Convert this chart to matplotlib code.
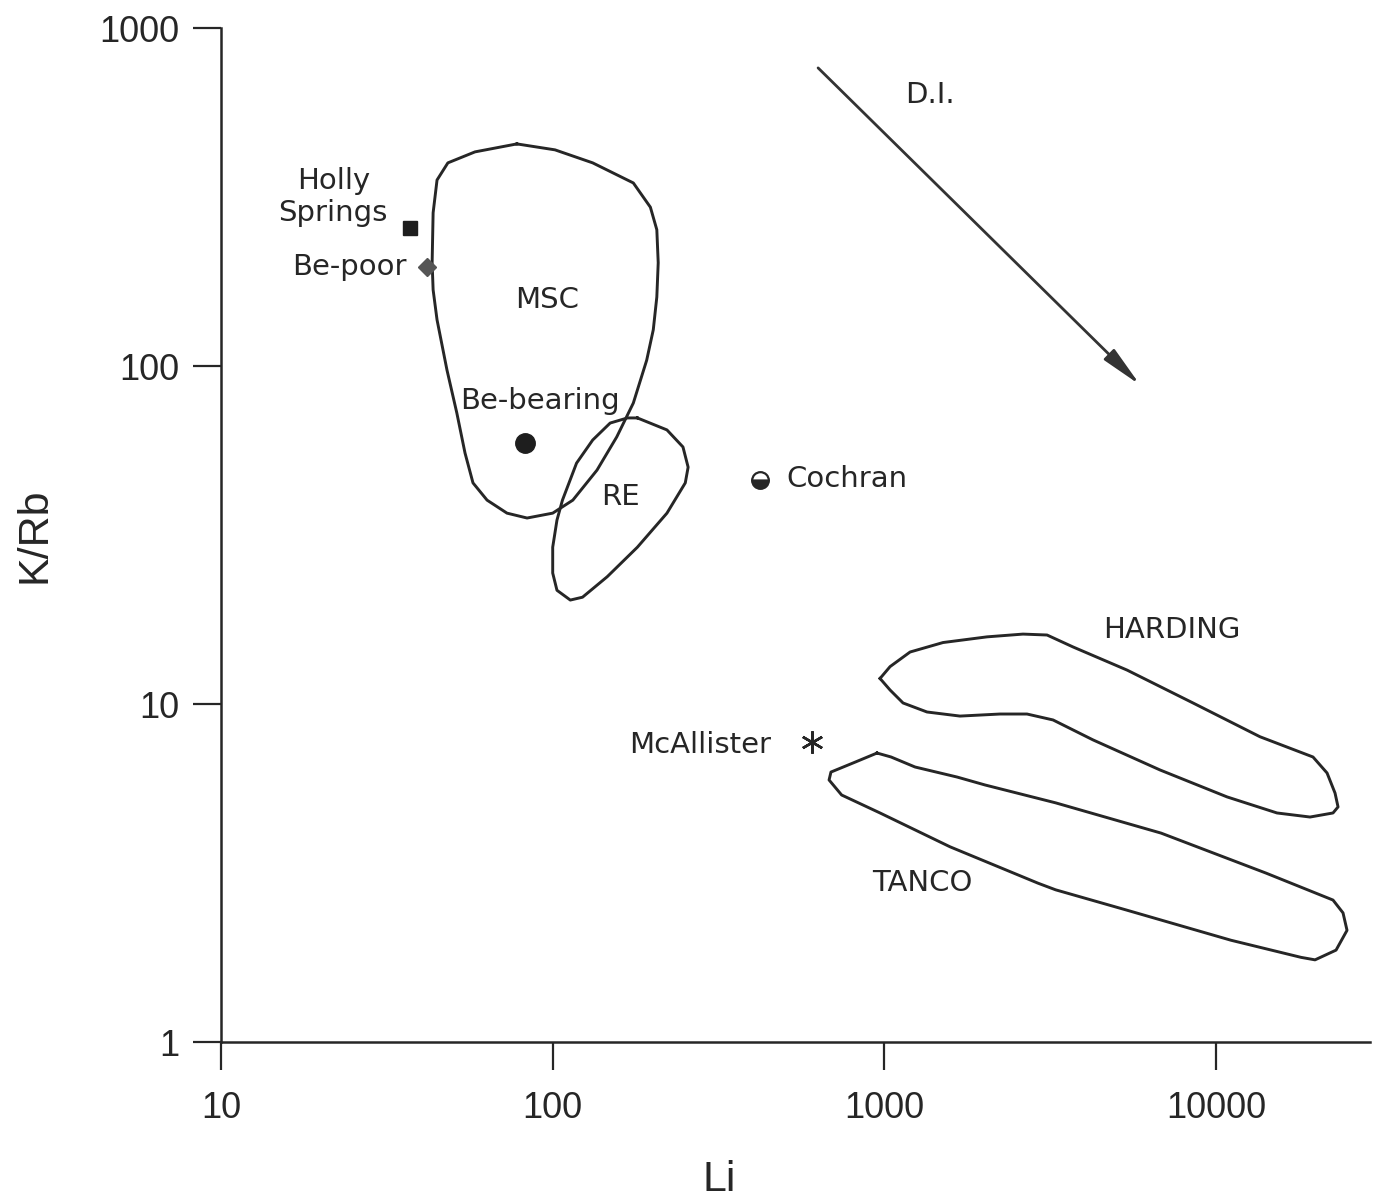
"""K/Rb vs Li diagram for pegmatite fields (log-log)."""
import numpy as np
import matplotlib
matplotlib.use("Agg")
import matplotlib.pyplot as plt

INK = '#262626'

# field outlines (Li ppm, K/Rb)
MSC_LI = [78.0, 101.6, 132, 175, 197, 206, 208, 206, 201, 192, 175, 156, 136, 115,
          100, 83.7, 72.8, 63.4, 57.5, 54.4, 51.4, 48.0, 44.8, 43.6, 43.3, 43.6,
          44.8, 48.3, 58.3]
MSC_KRB = [454, 436, 399, 348, 295, 253, 202, 160, 128, 104, 77.7, 61.7, 49.2, 40.1,
           36.7, 35.5, 36.7, 40.1, 45.1, 55.3, 72.6, 97.3, 137, 168, 202, 284,
           355, 399, 430]

RE_LI = [180, 221, 247, 256, 251, 221, 180, 146, 123, 113, 103, 100, 100, 103,
         107, 118, 132, 149, 168]
RE_KRB = [70.2, 64.7, 57.6, 50.2, 45.1, 36.7, 29.1, 23.8, 20.7, 20.3, 21.7, 24.4,
          29.1, 35.0, 40.1, 51.6, 60.4, 67.8, 70.2]

HARDING_LI = [970, 1040, 1195, 1502, 2039, 2617, 3092, 3703, 5388, 8519, 13560,
              19590, 21600, 22830, 23310, 22510, 19190, 15260, 10790, 6775, 4255,
              3224, 2691, 2231, 1690, 1344, 1138, 1040]
HARDING_KRB = [11.9, 12.9, 14.25, 15.2, 15.8, 16.1, 16.0, 14.75, 12.6, 10.07, 8.0,
               6.97, 6.25, 5.45, 4.96, 4.76, 4.63, 4.76, 5.31, 6.38, 7.83,
               8.97, 9.34, 9.34, 9.21, 9.47, 10.07, 11.0]

TANCO_LI = [950, 1047, 1237, 1656, 2011, 3282, 6823, 14140, 22510, 24130, 24810,
            22990, 19870, 18030, 11090, 5343, 3282, 2905, 1577, 970, 743, 681,
            690, 819]
TANCO_KRB = [7.16, 6.97, 6.51, 6.08, 5.76, 5.10, 4.15, 3.16, 2.63, 2.41, 2.14,
             1.87, 1.75, 1.78, 2.00, 2.46, 2.82, 2.95, 3.78, 4.76, 5.38, 5.96,
             6.29, 6.74]

# single localities
HOLLY = (37.1, 256)
BE_POOR = (41.8, 196)
BE_BEARING = (82.5, 59.2)
COCHRAN = (422, 46)
MCALLISTER = (605, 7.73)

# differentiation index arrow
DI_START = (631, 762)
DI_END = (5900, 87.9)

XTICKS = [10, 100, 1000, 10000]
YTICKS = [1, 10, 100, 1000]

fig = plt.figure(figsize=(13.73, 12.01), dpi=100)
ax = fig.add_axes([221 / 1373, 1 - 1042 / 1201, 1149 / 1373, 1014 / 1201])
ax.set_xscale('log')
ax.set_yscale('log')
ax.set_xlim(10, 29100)
ax.set_ylim(1, 1000)

for xs, ys in [(MSC_LI, MSC_KRB), (RE_LI, RE_KRB),
               (HARDING_LI, HARDING_KRB), (TANCO_LI, TANCO_KRB)]:
    ax.plot(np.r_[xs, xs[:1]], np.r_[ys, ys[:1]], color=INK, lw=2.1,
            solid_joinstyle='round')

ax.plot(*HOLLY, marker='s', ms=10, color='#1e1e1e', ls='none')
ax.plot(*BE_POOR, marker='D', ms=9, color='#555555', ls='none')
ax.plot(*BE_BEARING, marker='o', ms=14, color='#1e1e1e', ls='none')
ax.plot(*COCHRAN, marker='o', ms=12, ls='none', fillstyle='bottom',
        markerfacecolor=INK, markerfacecoloralt='white', markeredgecolor=INK,
        markeredgewidth=1.6)
ax.plot(*MCALLISTER, marker=(6, 2, 0), ms=16, mew=1.8, color=INK, ls='none')

ax.annotate('', xy=DI_END, xytext=DI_START,
            arrowprops=dict(arrowstyle='-|>,head_length=0.9,head_width=0.16',
                            mutation_scale=28, lw=2, color='#333333',
                            shrinkA=0, shrinkB=0))

lab = dict(family='DejaVu Sans', fontsize=21, color=INK)
ax.text(21.8, 316, 'Holly\nSprings', ha='center', va='center',
        multialignment='center', linespacing=1.15, **lab)
ax.text(36.4, 196, 'Be-poor', ha='right', va='center', **lab)
ax.text(96.1, 157, 'MSC', ha='center', va='center', **lab)
ax.text(91.6, 78.8, 'Be-bearing', ha='center', va='center', **lab)
ax.text(160, 41.0, 'RE', ha='center', va='center', **lab)
ax.text(505, 46.3, 'Cochran', ha='left', va='center', **lab)
ax.text(7360, 16.55, 'HARDING', ha='center', va='center', **lab)
ax.text(455, 7.56, 'McAllister', ha='right', va='center', **lab)
ax.text(1298, 2.95, 'TANCO', ha='center', va='center', **lab)
ax.text(1373, 633, 'D.I.', ha='center', va='center', **lab)

for s in ['top', 'right']:
    ax.spines[s].set_visible(False)
for s in ['left', 'bottom']:
    ax.spines[s].set_linewidth(1.8)
    ax.spines[s].set_color(INK)

ax.set_xticks(XTICKS, [str(v) for v in XTICKS])
ax.set_yticks(YTICKS, [str(v) for v in YTICKS])
ax.minorticks_off()
ax.tick_params(axis='both', length=20, width=1.6, color=INK, labelcolor=INK,
               labelsize=26)
ax.tick_params(axis='x', pad=15)
ax.tick_params(axis='y', pad=10)
for t in ax.get_xticklabels() + ax.get_yticklabels():
    t.set_family('Liberation Sans')

ax.set_xlabel('Li', family='Liberation Sans', fontsize=31, color=INK)
ax.set_ylabel('K/Rb', family='Liberation Sans', fontsize=31, color=INK)
ax.xaxis.set_label_coords(0.434, -0.136)
ax.yaxis.set_label_coords(-0.162, 0.5)
ax.xaxis.label.set_va('center')
ax.yaxis.label.set_va('center')

fig.savefig('out.png', dpi=100, facecolor='white')
